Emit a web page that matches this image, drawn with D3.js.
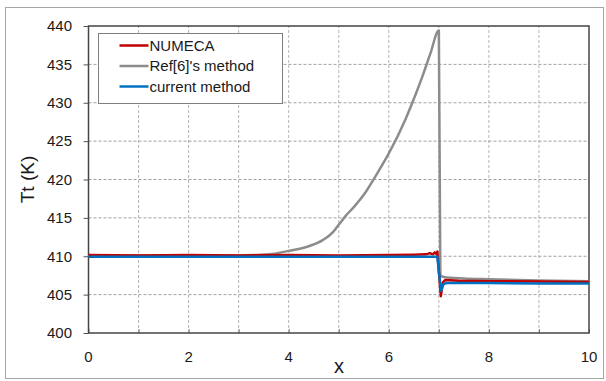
<!DOCTYPE html>
<html>
<head>
<meta charset="utf-8">
<script src="https://cdn.jsdelivr.net/npm/d3@7"></script>
<style>
  body { margin: 0; background: #fff; }
  text { font-family: "Liberation Sans", Arial, sans-serif; fill: #1a1a1a; }
</style>
</head>
<body>
<div id="chart"></div>
<script>
// values
const numecaX = [0, 1, 2, 3, 4, 5, 6, 6.5, 6.75, 6.82, 6.88, 6.92, 6.95, 6.97, 7.0, 7.04, 7.08, 7.13, 7.4, 8, 9, 10];
const numecaT = [410.15, 410.1, 410.15, 410.1, 410.15, 410.1, 410.15, 410.2, 410.25, 410.4, 410.25, 410.5, 410.3, 410.6, 408.0, 404.8, 406.6, 406.9, 406.8, 406.75, 406.7, 406.65];

const refX = [0, 1, 2, 3, 3.3, 3.67, 4, 4.35, 4.68, 4.88, 5.0, 5.13, 5.3, 5.5, 5.75, 6.0, 6.33, 6.47, 6.67, 6.83, 7.0, 7.03, 7.1, 7.5, 8, 9, 10];
const refT = [410.1, 410.1, 410.1, 410.1, 410.15, 410.3, 410.7, 411.2, 412.1, 413.1, 414.1, 415.2, 416.4, 418.0, 420.6, 423.4, 427.8, 430.0, 433.4, 436.4, 439.4, 407.5, 407.3, 407.1, 407.0, 406.85, 406.75];

const currentX = [0, 1, 2, 3, 4, 5, 6, 6.97, 7.0, 7.045, 7.09, 7.15, 8, 9, 10];
const currentT = [409.95, 409.95, 409.95, 409.95, 409.95, 409.95, 409.95, 409.95, 408.0, 405.5, 406.35, 406.5, 406.5, 406.45, 406.45];

const xTicks = [0, 2, 4, 6, 8, 10];
const xGrid = [1, 2, 3, 4, 5, 6, 7, 8, 9];
const yTicks = [400, 405, 410, 415, 420, 425, 430, 435, 440];

const seriesNames = ['NUMECA', "Ref[6]'s method", 'current method'];
const seriesColors = ['#c00000', '#8c8c8c', '#0070c0'];

const width = 606;
const height = 381;
const margin = {top: 26, right: 17, bottom: 48, left: 88.5};

const svg = d3.select('#chart')
  .append('svg')
  .attr('width', width)
  .attr('height', height);

// outer frame
svg.append('rect')
  .attr('x', 5.5).attr('y', 7.5)
  .attr('width', 598).attr('height', 371)
  .attr('fill', 'none')
  .attr('stroke', '#a6a6a6')
  .attr('stroke-width', 1);

const x = d3.scaleLinear().domain([0, 10]).range([margin.left, width - margin.right]);
const y = d3.scaleLinear().domain([400, 440]).range([height - margin.bottom, margin.top]);

// grid
svg.append('g')
  .selectAll('line')
  .data(xGrid)
  .enter()
  .append('line')
  .attr('x1', d => x(d)).attr('x2', d => x(d))
  .attr('y1', y(400)).attr('y2', y(440))
  .attr('stroke', '#b4b4b4')
  .attr('stroke-dasharray', '3,2');

svg.append('g')
  .selectAll('line')
  .data(yTicks.slice(1, -1))
  .enter()
  .append('line')
  .attr('x1', x(0)).attr('x2', x(10))
  .attr('y1', d => y(d)).attr('y2', d => y(d))
  .attr('stroke', '#a0a0a0')
  .attr('stroke-dasharray', '3,2');

// axes
const xAxis = svg.append('g')
  .attr('transform', `translate(0, ${y(400)})`)
  .call(d3.axisBottom(x).tickValues(d3.range(0, 11)).tickSize(-4).tickFormat(''));
xAxis.select('.domain').remove();
xAxis.selectAll('line').attr('stroke', '#777');

const yAxis = svg.append('g')
  .attr('transform', `translate(${x(0)}, 0)`)
  .call(d3.axisLeft(y).tickValues(yTicks).tickSize(5).tickFormat(''));
yAxis.select('.domain').remove();
yAxis.selectAll('line').attr('stroke', '#555');

svg.append('rect')
  .attr('x', x(0)).attr('y', y(440))
  .attr('width', x(10) - x(0)).attr('height', y(400) - y(440))
  .attr('fill', 'none')
  .attr('stroke', '#444')
  .attr('stroke-width', 1.5);

// tick labels
svg.append('g')
  .selectAll('text')
  .data(yTicks)
  .enter()
  .append('text')
  .attr('x', 72)
  .attr('y', d => y(d))
  .attr('dy', '0.35em')
  .attr('text-anchor', 'end')
  .attr('font-size', 15)
  .text(d => d);

svg.append('g')
  .selectAll('text')
  .data(xTicks)
  .enter()
  .append('text')
  .attr('x', d => x(d))
  .attr('y', 357)
  .attr('dy', '0.35em')
  .attr('text-anchor', 'middle')
  .attr('font-size', 15)
  .text(d => d);

// axis titles
svg.append('text')
  .attr('x', 339).attr('y', 366)
  .attr('dy', '0.35em')
  .attr('text-anchor', 'middle')
  .attr('font-size', 20)
  .text('x');

svg.append('text')
  .attr('transform', `translate(27, ${(y(400) + y(440)) / 2}) rotate(-90)`)
  .attr('dy', '0.35em')
  .attr('text-anchor', 'middle')
  .attr('font-size', 19)
  .text('Tt (K)');

// curves
const line = d3.line()
  .x(d => x(d[0]))
  .y(d => y(d[1]));

const series = [
  {name: seriesNames[1], color: seriesColors[1], pts: d3.zip(refX, refT)},
  {name: seriesNames[0], color: seriesColors[0], pts: d3.zip(numecaX, numecaT)},
  {name: seriesNames[2], color: seriesColors[2], pts: d3.zip(currentX, currentT)}
];

svg.append('g')
  .selectAll('path')
  .data(series)
  .enter()
  .append('path')
  .attr('d', d => line.curve(d.name === seriesNames[1] ? d3.curveMonotoneX : d3.curveLinear)(d.pts))
  .attr('fill', 'none')
  .attr('stroke', d => d.color)
  .attr('stroke-width', 2.5)
  .attr('stroke-linejoin', 'round');

// legend
const legend = svg.append('g').attr('transform', 'translate(98.5, 33.5)');
legend.append('rect')
  .attr('width', 184).attr('height', 70)
  .attr('fill', '#fff')
  .attr('stroke', '#7f7f7f');

const items = legend.selectAll('g')
  .data(seriesNames)
  .enter()
  .append('g')
  .attr('transform', (d, i) => `translate(0, ${12 + i * 20.5})`);

items.append('line')
  .attr('x1', 21).attr('x2', 50)
  .attr('stroke', (d, i) => seriesColors[i])
  .attr('stroke-width', 2.5);

items.append('text')
  .attr('x', 51)
  .attr('dy', '0.35em')
  .attr('font-size', 15)
  .text(d => d);
</script>
</body>
</html>
